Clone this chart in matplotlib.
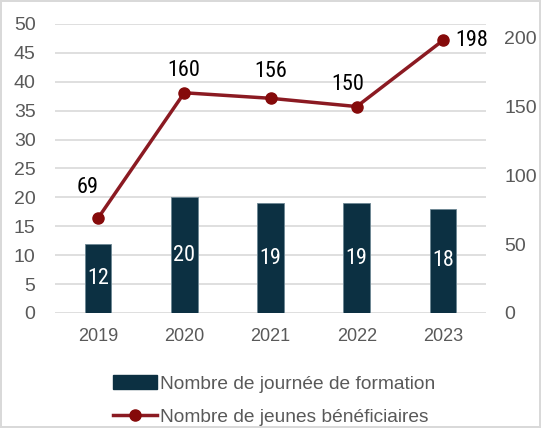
import matplotlib.pyplot as plt
from matplotlib.lines import Line2D
from matplotlib.patches import Patch
from matplotlib import font_manager

years = ["2019", "2020", "2021", "2022", "2023"]
jours = [12, 20, 19, 19, 18]
jeunes = [69, 160, 156, 150, 198]

bar_color = "#0c3042"
line_color = "#8b1a22"
mark_color = "#850a0a"
grey = "#595959"

plt.rcParams['font.family'] = ["Liberation Sans", "DejaVu Sans"]

# narrow face for the data labels, if one is installed
names = {f.name for f in font_manager.fontManager.ttflist}
narrow = None
for n in ["Liberation Sans Narrow", "Arial Narrow", "Roboto Condensed", "Open Sans Condensed"]:
    if n in names:
        narrow = dict(family=n)
        break
if narrow is None:
    narrow = dict(family="DejaVu Sans", stretch="condensed")

fig = plt.figure(figsize=(5.41, 4.28), dpi=100)
fig.patch.set_edgecolor("#d9d9d9")
fig.patch.set_linewidth(1.5)
ax = fig.add_axes([0.1017, 0.2687, 0.7966, 0.6753])
ax2 = ax.twinx()

x = range(len(years))
bars = ax.bar(x, jours, width=0.31, color=bar_color, edgecolor="#6d8794", linewidth=0.6, zorder=3)
ax.set_xlim(-0.5, 4.5)
ax.set_ylim(0, 50)
ax.set_yticks(range(0, 51, 5))
ax.grid(axis="y", color="#d9d9d9", linewidth=1.2, zorder=0)
ax.set_axisbelow(True)
ax.set_xticks(list(x))
ax.set_xticklabels(years)
for b, v in zip(bars, jours):
    ax.text(b.get_x() + b.get_width() / 2, v / 2, str(v), ha="center", va="center",
            color="white", fontsize=16, zorder=4, **narrow)

ax2.plot(list(x), jeunes, color=line_color, linewidth=2.5, marker="o",
         markersize=8, markerfacecolor=mark_color, markeredgecolor=mark_color, zorder=5)
ax2.set_ylim(0, 210)
ax2.set_yticks(range(0, 201, 50))
offsets = [(-10, 31), (-1, 22), (0, 27), (-9, 22), (29, 0)]
for i, (v, off) in enumerate(zip(jeunes, offsets)):
    ax2.annotate(str(v), (i, v), xytext=off, textcoords="offset pixels",
                 ha="center", va="center", fontsize=16, color="black", **narrow)

for a in (ax, ax2):
    for s in a.spines.values():
        s.set_visible(False)
    a.tick_params(length=0, labelsize=14, labelcolor=grey)
ax.tick_params(axis="x", pad=11, labelsize=13)
ax.tick_params(axis="y", pad=14)
ax2.tick_params(axis="y", pad=13)
ax2.patch.set_visible(False)

handles = [Patch(facecolor=bar_color, edgecolor=bar_color),
           Line2D([0], [0], color=line_color, linewidth=2.5, marker="o", markersize=8,
                  markerfacecolor=mark_color, markeredgecolor=mark_color)]
labels = ["Nombre de journée de formation", "Nombre de jeunes bénéficiaires"]
leg = fig.legend(handles, labels, loc="center", bbox_to_anchor=(0.507, 0.064), ncol=1,
                 frameon=False, fontsize=13.8, handlelength=2.3, handleheight=0.75,
                 handletextpad=0.15, labelspacing=0.8, labelcolor=grey)

fig.savefig("out.png", dpi=100)
